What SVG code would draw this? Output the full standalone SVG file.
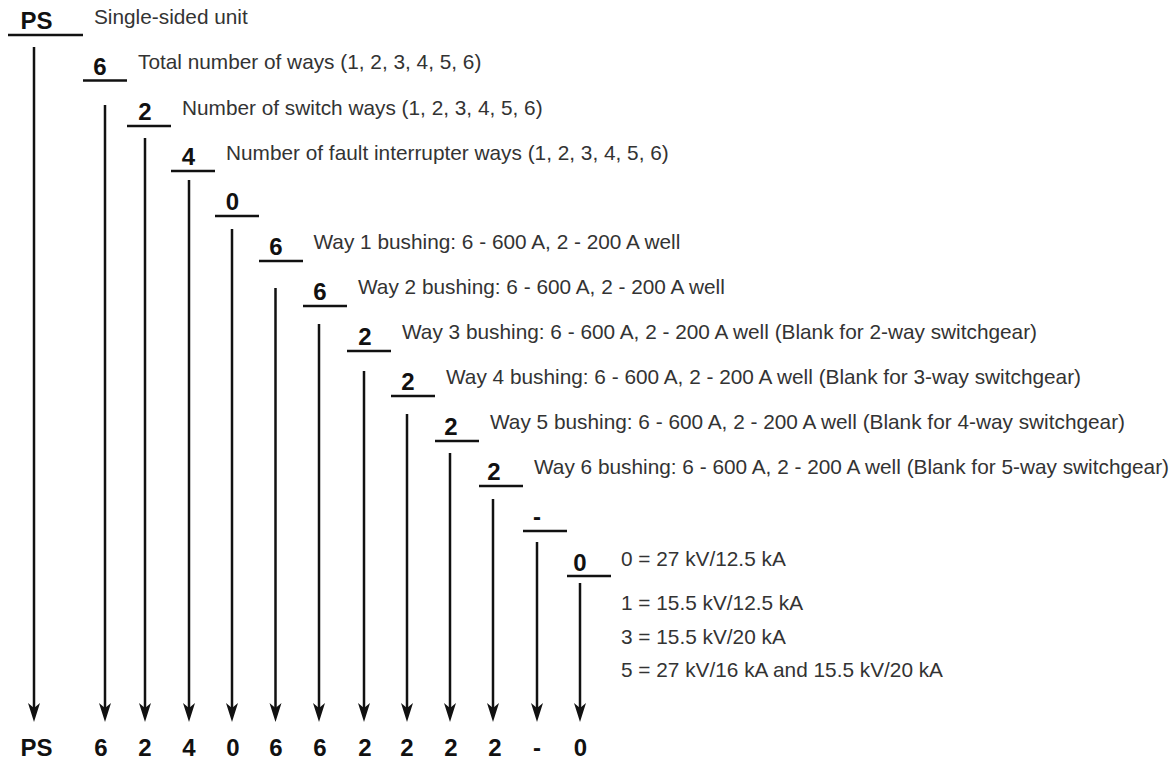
<svg xmlns="http://www.w3.org/2000/svg" width="1175" height="765" viewBox="0 0 1175 765">
<style>
.lbl{font-family:"Liberation Sans",Arial,sans-serif;font-weight:bold;font-size:24px;fill:#111;text-anchor:middle}
.dsc{font-family:"Liberation Sans",Arial,sans-serif;font-size:20.8px;fill:#333}
.ul{stroke:#111;stroke-width:2.5;fill:none}
.arr{stroke:#111;stroke-width:2.5;fill:none;marker-end:url(#ah)}
</style>
<defs>
<marker id="ah" markerUnits="userSpaceOnUse" viewBox="-10 -7 21 14" refX="0" refY="0" markerWidth="21" markerHeight="14" orient="auto">
<path d="M10,0 L-9,-6 L-4,0 L-9,6 Z" fill="#111"/>
</marker>
</defs>
<rect width="1175" height="765" fill="#fff"/>
<g id="connectors">
<line class="arr" x1="34" y1="47" x2="34" y2="712"/>
<line class="arr" x1="105" y1="105" x2="105" y2="712"/>
<line class="arr" x1="145" y1="138" x2="145" y2="712"/>
<line class="arr" x1="189" y1="180" x2="189" y2="712"/>
<line class="arr" x1="232" y1="229" x2="232" y2="712"/>
<line class="arr" x1="275.5" y1="288" x2="275.5" y2="712"/>
<line class="arr" x1="319" y1="324" x2="319" y2="712"/>
<line class="arr" x1="364" y1="371" x2="364" y2="712"/>
<line class="arr" x1="407" y1="414" x2="407" y2="712"/>
<line class="arr" x1="450" y1="453" x2="450" y2="712"/>
<line class="arr" x1="493" y1="499" x2="493" y2="712"/>
<line class="arr" x1="537" y1="542" x2="537" y2="712"/>
<line class="arr" x1="580" y1="583" x2="580" y2="712"/>
</g>
<g id="node-ps">
<text class="lbl" x="36.5" y="29">PS</text>
<line class="ul" x1="8" y1="35" x2="83" y2="35"/>
<text class="dsc" x="94" y="23.5">Single-sided unit</text>
<text class="lbl" x="36.5" y="756">PS</text>
</g>
<g id="node-total-ways">
<text class="lbl" x="100" y="75">6</text>
<line class="ul" x1="83" y1="80.5" x2="127" y2="80.5"/>
<text class="dsc" x="138" y="69">Total number of ways (1, 2, 3, 4, 5, 6)</text>
<text class="lbl" x="101" y="756">6</text>
</g>
<g id="node-switch-ways">
<text class="lbl" x="145" y="120">2</text>
<line class="ul" x1="127" y1="126" x2="171" y2="126"/>
<text class="dsc" x="182" y="114.5">Number of switch ways (1, 2, 3, 4, 5, 6)</text>
<text class="lbl" x="145" y="756">2</text>
</g>
<g id="node-fault-ways">
<text class="lbl" x="188.5" y="165">4</text>
<line class="ul" x1="171" y1="171" x2="215" y2="171"/>
<text class="dsc" x="226" y="160">Number of fault interrupter ways (1, 2, 3, 4, 5, 6)</text>
<text class="lbl" x="189" y="756">4</text>
</g>
<g id="node-zero">
<text class="lbl" x="232.5" y="210">0</text>
<line class="ul" x1="215" y1="216" x2="259" y2="216"/>
<text class="lbl" x="233" y="756">0</text>
</g>
<g id="node-way1">
<text class="lbl" x="276" y="255">6</text>
<line class="ul" x1="259" y1="261" x2="303" y2="261"/>
<text class="dsc" x="313.5" y="248.5">Way 1 bushing: 6 - 600 A, 2 - 200 A well</text>
<text class="lbl" x="276" y="756">6</text>
</g>
<g id="node-way2">
<text class="lbl" x="320" y="300">6</text>
<line class="ul" x1="303" y1="306" x2="347" y2="306"/>
<text class="dsc" x="358" y="293.5">Way 2 bushing: 6 - 600 A, 2 - 200 A well</text>
<text class="lbl" x="320" y="756">6</text>
</g>
<g id="node-way3">
<text class="lbl" x="365" y="345">2</text>
<line class="ul" x1="347" y1="351" x2="391" y2="351"/>
<text class="dsc" x="402" y="338.5">Way 3 bushing: 6 - 600 A, 2 - 200 A well (Blank for 2-way switchgear)</text>
<text class="lbl" x="365" y="756">2</text>
</g>
<g id="node-way4">
<text class="lbl" x="408" y="390">2</text>
<line class="ul" x1="391" y1="396" x2="435" y2="396"/>
<text class="dsc" x="446" y="383.5">Way 4 bushing: 6 - 600 A, 2 - 200 A well (Blank for 3-way switchgear)</text>
<text class="lbl" x="407" y="756">2</text>
</g>
<g id="node-way5">
<text class="lbl" x="451" y="435">2</text>
<line class="ul" x1="435" y1="441" x2="479" y2="441"/>
<text class="dsc" x="490" y="428.5">Way 5 bushing: 6 - 600 A, 2 - 200 A well (Blank for 4-way switchgear)</text>
<text class="lbl" x="451" y="756">2</text>
</g>
<g id="node-way6">
<text class="lbl" x="494" y="480">2</text>
<line class="ul" x1="479" y1="486" x2="523" y2="486"/>
<text class="dsc" x="534" y="473.5">Way 6 bushing: 6 - 600 A, 2 - 200 A well (Blank for 5-way switchgear)</text>
<text class="lbl" x="495" y="756">2</text>
</g>
<g id="node-dash">
<text class="lbl" x="537" y="525">-</text>
<line class="ul" x1="523" y1="531" x2="567" y2="531"/>
<text class="lbl" x="537" y="756">-</text>
</g>
<g id="node-rating">
<text class="lbl" x="580" y="571">0</text>
<line class="ul" x1="567" y1="576" x2="611" y2="576"/>
<text class="dsc" x="621" y="566">0 = 27 kV/12.5 kA</text>
<text class="dsc" x="621" y="610">1 = 15.5 kV/12.5 kA</text>
<text class="dsc" x="621" y="644">3 = 15.5 kV/20 kA</text>
<text class="dsc" x="621" y="677">5 = 27 kV/16 kA and 15.5 kV/20 kA</text>
<text class="lbl" x="580.5" y="756">0</text>
</g>
</svg>
